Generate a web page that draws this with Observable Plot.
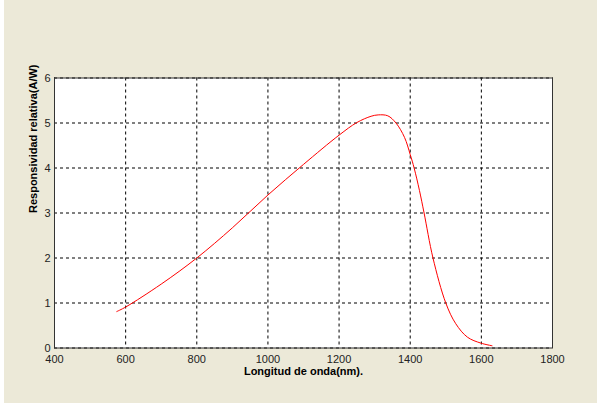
<!DOCTYPE html>
<html>
<head>
<meta charset="utf-8">
<script src="https://cdn.jsdelivr.net/npm/d3@7"></script>
<script src="https://cdn.jsdelivr.net/npm/@observablehq/plot@0.6"></script>
<style>
  html, body { margin: 0; padding: 0; }
  body { width: 597px; height: 403px; overflow: hidden;
         background: linear-gradient(to right, #ffffff 4px, #ECE9D8 4px); }
  #chart svg { display: block; }
</style>
</head>
<body>
<div id="chart"></div>
<script>
// Wavelength (nm) and relative responsivity (A/W)
const wavelength = [575, 600, 700, 800, 900, 1000, 1100, 1200, 1250, 1290, 1310, 1337, 1360, 1384, 1400, 1411, 1426, 1439, 1464, 1500, 1528, 1561, 1598, 1630];
const responsivity = [0.81, 0.91, 1.42, 2.0, 2.67, 3.4, 4.08, 4.73, 5.01, 5.15, 5.18, 5.16, 5.0, 4.68, 4.3, 4.0, 3.5, 3.0, 2.0, 1.0, 0.54, 0.24, 0.11, 0.05];
const xTicks = [400, 600, 800, 1000, 1200, 1400, 1600, 1800];
const yTicks = [0, 1, 2, 3, 4, 5, 6];
const xLabel = "Longitud de onda(nm).";
const yLabel = "Responsividad relativa(A/W)";

const data = wavelength.map((w, i) => ({w, r: responsivity[i]}));

const chart = Plot.plot({
  width: 597,
  height: 403,
  marginLeft: 54,
  marginRight: 45,
  marginTop: 77.5,
  marginBottom: 55.5,
  style: {background: "transparent", fontFamily: "'Liberation Sans', Arial, sans-serif", fontSize: "11px", color: "#222"},
  x: {domain: [400, 1800]},
  y: {domain: [0, 6]},
  marks: [
    Plot.frame({fill: "white"}),
    Plot.gridX(xTicks, {stroke: "black", strokeOpacity: 1, strokeDasharray: "3,3", strokeWidth: 1}),
    Plot.gridY(yTicks, {stroke: "black", strokeOpacity: 1, strokeDasharray: "3,3", strokeWidth: 1}),
    Plot.axisX(xTicks, {tickSize: 0, tickPadding: 7, label: null, tickFormat: d => String(d)}),
    Plot.axisY(yTicks, {tickSize: 0, tickPadding: 4, label: null}),
    Plot.frame({stroke: "#333", strokeWidth: 1}),
    Plot.line(data, {x: "w", y: "r", stroke: "#ff0000", strokeWidth: 1, curve: "catmull-rom"}),
    Plot.text([xLabel], {frameAnchor: "bottom", dy: 27, fontWeight: "bold", fontSize: 11, fill: "black"}),
    Plot.text([yLabel], {frameAnchor: "left", dx: -21, rotate: -90, fontWeight: "bold", fontSize: 11, fill: "black"})
  ]
});
document.getElementById("chart").appendChild(chart);
</script>
</body>
</html>
